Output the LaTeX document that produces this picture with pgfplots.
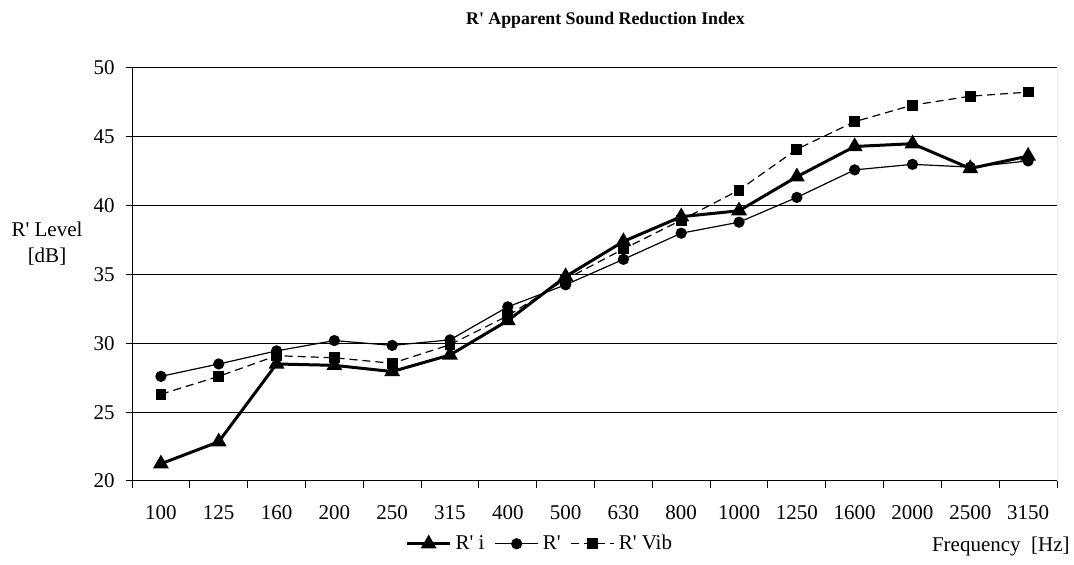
\documentclass[border=0pt]{standalone}
\usepackage{pgfplots}
\pgfplotsset{compat=1.18}
\usepackage{fontspec}
\setmainfont{Liberation Serif}[Ligatures=TeXOff]
\begin{document}
\begin{tikzpicture}
\useasboundingbox (0,0) rectangle (537pt,282.5pt);
\begin{axis}[
  at={(66pt,42pt)}, anchor=south west,
  scale only axis, width=462.5pt, height=206.5pt,
  xmin=-0.5, xmax=15.5, ymin=20, ymax=50,
  xtick={0,...,15},
  xticklabels={100,125,160,200,250,315,400,500,630,800,1000,1250,1600,2000,2500,3150},
  minor xtick={-0.5,0.5,...,15.5},
  ytick={20,25,...,50},
  tick align=outside,
  major x tick style={draw=none},
  minor tick length=3.5pt,
  major tick length=6.5pt,
  every major y tick/.append style={xshift=3.25pt},
  ymajorgrids,
  major grid style={black, line width=0.5pt},
  axis line style={black, line width=0.5pt},
  every tick/.style={black, line width=0.5pt},
  axis x line*=bottom, axis y line*=left,
  /pgf/number format/assume math mode=true,
  tick label style={font=\fontsize{10.5}{12}\selectfont},
  yticklabel style={inner sep=0pt, xshift=-2pt, anchor=east},
  xticklabel style={inner sep=0pt, yshift=-13pt, anchor=base},
  legend columns=3,
  legend style={draw=none, fill=none, at={(axis description cs:0.442,-0.152)}, anchor=center,
     font=\fontsize{10.5}{12}\selectfont, inner sep=0pt,
     /tikz/every even column/.append style={column sep=3pt}},
  legend cell align=left,
  legend image code/.code={\draw[mark repeat=2,mark phase=2,#1] plot coordinates {(0pt,0pt) (10.75pt,0pt) (21.5pt,0pt)};},
]
\draw[gray, line width=0.5pt] (rel axis cs:1,0) -- (rel axis cs:1,1);
\draw[black, line width=0.5pt] (rel axis cs:0,1) -- (rel axis cs:1,1);
\addplot[black, line width=1.5pt, mark=triangle*, mark size=3.1pt, mark options={solid}] coordinates {
(0,21.25) (1,22.85) (2,28.5) (3,28.4) (4,27.95) (5,29.15) (6,31.65) (7,34.85)
(8,37.4) (9,39.2) (10,39.63) (11,42.1) (12,44.3) (13,44.5) (14,42.7) (15,43.6)};
\addlegendentry{R' i}
\addplot[black, line width=0.6pt, mark=*, mark size=2.5pt, mark options={solid}] coordinates {
(0,27.6) (1,28.5) (2,29.45) (3,30.2) (4,29.85) (5,30.25) (6,32.65) (7,34.25)
(8,36.1) (9,38.0) (10,38.8) (11,40.6) (12,42.6) (13,43.0) (14,42.8) (15,43.25)};
\addlegendentry{R'}
\addplot[black, line width=0.6pt, dash pattern=on 4pt off 2.5pt, mark=square*, mark size=2.4pt, mark options={solid}] coordinates {
(0,26.3) (1,27.6) (2,29.1) (3,28.95) (4,28.55) (5,29.9) (6,32.0) (7,34.65)
(8,36.85) (9,38.95) (10,41.13) (11,44.1) (12,46.1) (13,47.3) (14,47.95) (15,48.25)};
\addlegendentry{R' Vib}
\end{axis}
\node[font=\fontsize{8.9}{10}\selectfont\bfseries, anchor=base] at (302.75pt,270pt) {R' Apparent Sound Reduction Index};
\node[font=\fontsize{10.5}{13}\selectfont, align=center] at (23.5pt,160.5pt) {R' Level\\{}[dB]};
\node[font=\fontsize{10.5}{12}\selectfont, anchor=base east, inner sep=0pt] at (535pt,6.5pt) {Frequency\ \ [Hz]};
\end{tikzpicture}
\end{document}
